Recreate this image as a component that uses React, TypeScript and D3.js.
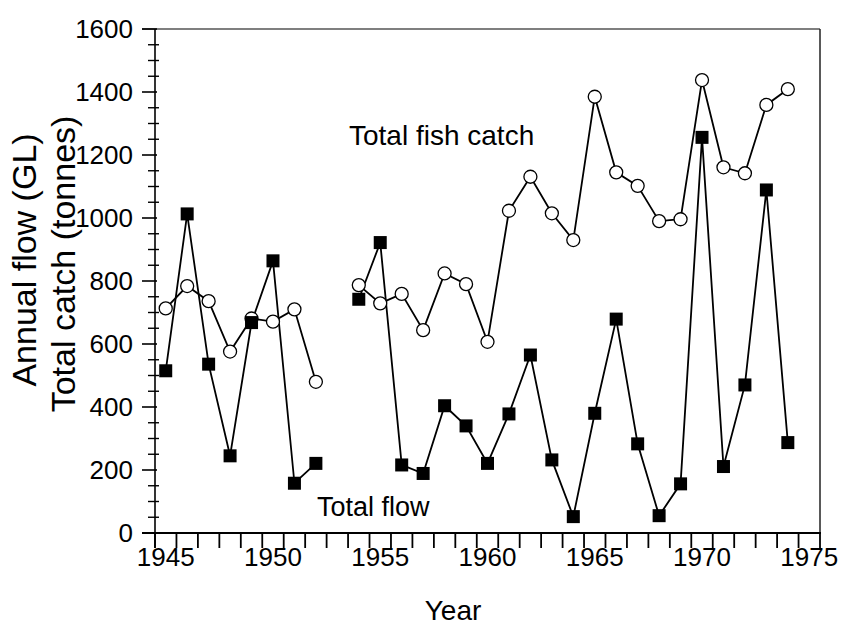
import React from "react";
import * as d3 from "d3";

// years of record; 1953 has no data
const years = [
  1945, 1946, 1947, 1948, 1949, 1950, 1951, 1952, 1953, 1954, 1955, 1956, 1957, 1958, 1959,
  1960, 1961, 1962, 1963, 1964, 1965, 1966, 1967, 1968, 1969, 1970, 1971, 1972, 1973, 1974,
];

const fishCatch: (number | null)[] = [
  713, 784, 736, 576, 681, 671, 710, 480, null, 787, 729, 759, 644, 824, 790,
  607, 1023, 1131, 1015, 930, 1385, 1145, 1102, 990, 996, 1438, 1161, 1142, 1359, 1409,
];

const totalFlow: (number | null)[] = [
  515, 1013, 536, 245, 668, 864, 158, 221, null, 742, 922, 216, 189, 404, 340,
  221, 378, 565, 232, 52, 380, 679, 283, 55, 156, 1256, 211, 470, 1089, 287,
];

const xTickLabels = [1945, 1950, 1955, 1960, 1965, 1970, 1975];
const yTickLabels = [0, 200, 400, 600, 800, 1000, 1200, 1400, 1600];

const W = 842;
const H = 632;
const left = 155, right = 820, top = 29, bottom = 533;
const font = "'Liberation Sans', Arial, Helvetica, sans-serif";

type Pt = { year: number; v: number | null };

export default function App() {
  const x = d3.scaleLinear().domain([1944.5, 1975.5]).range([left, right]);
  const y = d3.scaleLinear().domain([0, 1600]).range([bottom, top]);

  const fish: Pt[] = years.map((yr, i) => ({ year: yr, v: fishCatch[i] }));
  const flow: Pt[] = years.map((yr, i) => ({ year: yr, v: totalFlow[i] }));

  const line = d3
    .line<Pt>()
    .defined((d) => d.v != null)
    .x((d) => x(d.year))
    .y((d) => y(d.v as number));

  const minorY = d3.range(0, 1601, 50).filter((v) => v % 200 !== 0);
  const xTicks = d3.range(1944.5, 1976, 1);
  const sq = 13;

  return (
    <svg
      width={W}
      height={H}
      style={{ position: "absolute", left: 0, top: 0, background: "#fff" }}
      fontFamily={font}
    >
      {/* frame */}
      <line x1={left - 13} x2={right} y1={top} y2={top} stroke="#555" strokeWidth={1.6} />
      <line x1={right} x2={right} y1={top} y2={bottom} stroke="#222" strokeWidth={1.5} />
      <line x1={left} x2={left} y1={top} y2={bottom + 15} stroke="#000" strokeWidth={1.6} />
      <line x1={left - 13} x2={right + 1} y1={bottom} y2={bottom} stroke="#000" strokeWidth={2} />

      {/* y ticks */}
      {yTickLabels.map((v) => (
        <g key={"yt" + v}>
          <line x1={left - 13} x2={left + 2} y1={y(v)} y2={y(v)} stroke="#000" strokeWidth={1.6} />
          <text x={left - 22} y={y(v) + 9} fontSize={26} textAnchor="end" fill="#000">
            {v}
          </text>
        </g>
      ))}
      {minorY.map((v) => (
        <line key={"ym" + v} x1={left - 7} x2={left + 4} y1={y(v)} y2={y(v)} stroke="#000" strokeWidth={1.4} />
      ))}

      {/* x ticks */}
      {xTicks.map((t) => (
        <line key={"xt" + t} x1={x(t)} x2={x(t)} y1={bottom} y2={bottom + 15} stroke="#000" strokeWidth={1.8} />
      ))}
      {xTickLabels.map((t) => (
        <text key={"xl" + t} x={x(t)} y={bottom + 33} fontSize={26} textAnchor="middle" fill="#000">
          {t}
        </text>
      ))}

      {/* axis titles */}
      <text x={453} y={620} fontSize={28} textAnchor="middle" fill="#000">
        Year
      </text>
      <text transform={`translate(36,260) rotate(-90)`} fontSize={34} textAnchor="middle" fill="#000">
        Annual flow (GL)
      </text>
      <text transform={`translate(75,264) rotate(-90)`} fontSize={34} textAnchor="middle" fill="#000">
        Total catch (tonnes)
      </text>

      {/* series */}
      <path d={line(flow) || ""} fill="none" stroke="#000" strokeWidth={1.8} />
      <path d={line(fish) || ""} fill="none" stroke="#000" strokeWidth={1.8} />

      {fish
        .filter((d) => d.v != null)
        .map((d) => (
          <circle key={"c" + d.year} cx={x(d.year)} cy={y(d.v as number)} r={6.5} fill="#fff" stroke="#000" strokeWidth={1.3} />
        ))}
      {flow
        .filter((d) => d.v != null)
        .map((d) => (
          <rect key={"s" + d.year} x={x(d.year) - sq / 2} y={y(d.v as number) - sq / 2} width={sq} height={sq} fill="#000" />
        ))}

      {/* series labels */}
      <text x={349} y={145} fontSize={28} fill="#000">
        Total fish catch
      </text>
      <text x={317} y={516} fontSize={27} fill="#000">
        Total flow
      </text>
    </svg>
  );
}
